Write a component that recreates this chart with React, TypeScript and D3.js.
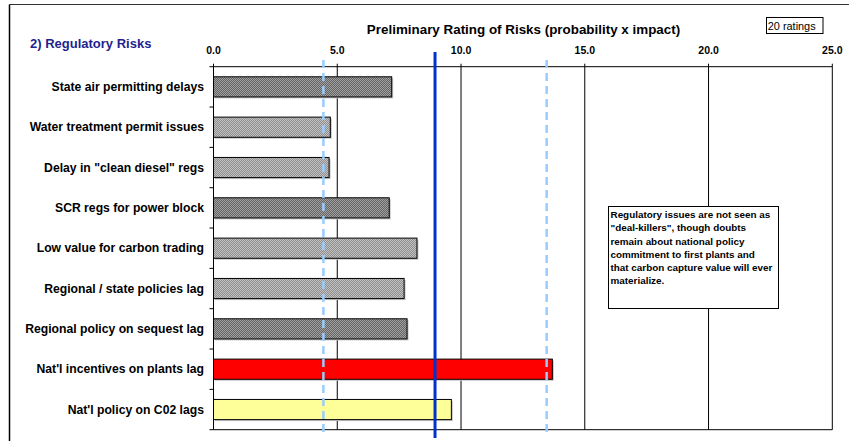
import React from "react";
import * as d3 from "d3";

const categories = [
  "State air permitting delays",
  "Water treatment permit issues",
  "Delay in \"clean diesel\" regs",
  "SCR regs for power block",
  "Low value for carbon trading",
  "Regional / state policies lag",
  "Regional policy on sequest lag",
  "Nat'l incentives on plants lag",
  "Nat'l policy on C02 lags",
];
const values = [7.2, 4.72, 4.67, 7.1, 8.22, 7.7, 7.82, 13.69, 9.61];
const barStyles = ["dark", "light", "light", "dark", "light", "light", "dark", "red", "yellow"];
const tickValues = [0, 5, 10, 15, 20, 25];
const tickLabels = ["0.0", "5.0", "10.0", "15.0", "20.0", "25.0"];
const meanValue = 8.95;
const lowValue = 4.44;
const highValue = 13.46;
const title = "Preliminary Rating of Risks (probability x impact)";
const sectionTitle = "2) Regulatory Risks";
const ratingsLabel = "20 ratings";
const noteLines = [
  "Regulatory issues are not seen as",
  "\"deal-killers\", though doubts",
  "remain about national policy",
  "commitment to first plants and",
  "that carbon capture value will ever",
  "materialize.",
];

const W = 849;
const H = 441;
const plotLeft = 213.5;
const plotRight = 832.3;
const plotTop = 66.7;
const plotBottom = 429.7;
const font = "'Liberation Sans', Arial, sans-serif";

const fillFor = (s: string) =>
  s === "dark" ? "url(#patDark)" : s === "light" ? "url(#patLight)" : s === "red" ? "#ff0000" : "#ffff99";

export default function App() {
  const x = d3.scaleLinear().domain([0, 25]).range([plotLeft, plotRight]);
  const y = d3.scaleBand<string>().domain(categories).range([plotTop, plotBottom]).paddingInner(0.5).paddingOuter(0.25);
  const band = d3.scaleBand<string>().domain(categories).range([plotTop, plotBottom]);
  const boundaries = d3.range(categories.length + 1).map((i) => plotTop + i * band.step());

  return (
    <svg width={W} height={H} style={{ position: "absolute", left: 0, top: 0, background: "#fff" }} fontFamily={font}>
      <defs>
        <pattern id="patDark" width={2} height={2} patternUnits="userSpaceOnUse">
          <rect width={2} height={2} fill="#656565" />
          <rect width={1} height={1} fill="#a0a0a0" />
          <rect x={1} y={1} width={1} height={1} fill="#a0a0a0" />
        </pattern>
        <pattern id="patLight" width={2} height={2} patternUnits="userSpaceOnUse">
          <rect width={2} height={2} fill="#8e8e8e" />
          <rect width={1} height={1} fill="#c2c2c2" />
          <rect x={1} y={1} width={1} height={1} fill="#c2c2c2" />
        </pattern>
      </defs>
      <rect x={0} y={0} width={W} height={H} fill="#fff" />
      {/* outer frame */}
      <line x1={9.5} y1={4.5} x2={W} y2={4.5} stroke="#333" strokeWidth={1.2} />
      <line x1={9.5} y1={4.5} x2={9.5} y2={H} stroke="#000" strokeWidth={1.5} />

      {/* gridlines */}
      {tickValues.slice(1).map((t) => (
        <line key={"g" + t} x1={x(t)} x2={x(t)} y1={plotTop} y2={plotBottom} stroke="#000" strokeWidth={1} />
      ))}
      {/* top axis */}
      <line x1={plotLeft} x2={plotRight} y1={plotTop} y2={plotTop} stroke="#000" strokeWidth={1} />
      {tickValues.map((t, i) => (
        <g key={"t" + t}>
          <line x1={x(t)} x2={x(t)} y1={plotTop - 3} y2={plotTop} stroke="#000" />
          <text x={x(t)} y={53.5} textAnchor="middle" fontSize={10.5} fontWeight="bold">{tickLabels[i]}</text>
        </g>
      ))}
      {/* bottom line */}
      <line x1={plotLeft} x2={plotRight} y1={plotBottom} y2={plotBottom} stroke="#000" strokeWidth={1} />
      {/* left axis */}
      <line x1={plotLeft} x2={plotLeft} y1={plotTop} y2={plotBottom} stroke="#000" strokeWidth={1} />
      {boundaries.map((b, i) => (
        <line key={"b" + i} x1={plotLeft - 4} x2={plotLeft} y1={b} y2={b} stroke="#000" />
      ))}

      {/* bars */}
      {categories.map((c, i) => (
        <g key={c}>
          <rect x={x(0) + 1.5} y={(y(c) as number) + 1.5} width={x(values[i]) - x(0)} height={y.bandwidth()} fill="#c8c8c8" />
          <rect x={x(0)} y={y(c)} width={x(values[i]) - x(0)} height={y.bandwidth()} fill={fillFor(barStyles[i])} stroke="#000" strokeWidth={1} />
          <text x={204} y={(y(c) as number) + y.bandwidth() / 2} dy="0.35em" textAnchor="end" fontSize={12.2} fontWeight="bold">{c}</text>
        </g>
      ))}

      {/* reference lines */}
      {[lowValue, highValue].map((v) => (
        <line key={"d" + v} x1={x(v)} x2={x(v)} y1={60} y2={437} stroke="#99ccff" strokeWidth={2.5} strokeDasharray="8 5" />
      ))}
      <line x1={x(meanValue)} x2={x(meanValue)} y1={52} y2={438} stroke="#0033cc" strokeWidth={3} />

      {/* titles */}
      <text x={523.5} y={34} textAnchor="middle" fontSize={13.4} fontWeight="bold">{title}</text>
      <text x={30} y={47.5} fontSize={13} fontWeight="bold" fill="#1f1f8f">{sectionTitle}</text>
      <rect x={766.5} y={17.5} width={56.5} height={16} fill="#fff" stroke="#000" strokeWidth={1} />
      <text x={767.8} y={29.5} fontSize={10.9}>{ratingsLabel}</text>

      {/* note */}
      <rect x={608.5} y={206.5} width={170} height={102} fill="#fff" stroke="#000" strokeWidth={1} />
      {noteLines.map((l, i) => (
        <text key={i} x={610.5} y={214.5 + i * 13.3} dy="0.35em" fontSize={9.9} fontWeight="bold">{l}</text>
      ))}
    </svg>
  );
}
